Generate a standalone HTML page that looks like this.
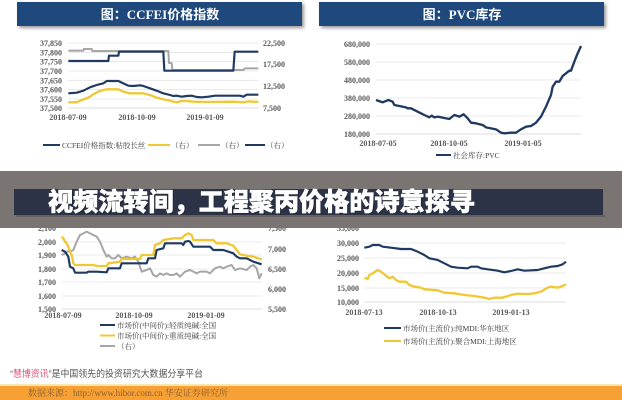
<!DOCTYPE html>
<html><head><meta charset="utf-8">
<style>
html,body{margin:0;padding:0;background:#fff;}
svg{display:block;}
.ax{font-family:"Liberation Serif","Noto Serif CJK SC",serif;font-size:8px;fill:#595959;font-weight:bold;}
.lg{font-family:"Liberation Serif","Noto Serif CJK SC",serif;font-size:7.5px;fill:#404040;}
.tt{font-family:"Liberation Serif","Noto Sans CJK SC",sans-serif;font-size:13px;font-weight:bold;fill:#fff;}
.g{stroke:#e4e4e4;stroke-width:0.8;}
</style></head>
<body>
<svg width="622" height="400" viewBox="0 0 622 400" xmlns="http://www.w3.org/2000/svg">
<defs>
<filter id="sh" x="-5%" y="-30%" width="110%" height="160%"><feGaussianBlur stdDeviation="1.5"/></filter>
</defs>
<rect width="622" height="400" fill="#fff"/>

<!-- ===== Top-left chart ===== -->
<rect x="19" y="4" width="285" height="24" fill="#999" filter="url(#sh)"/>
<rect x="17" y="2" width="285" height="24" fill="#1f497d"/>
<text x="160" y="19" text-anchor="middle" class="tt">图：CCFEI价格指数</text>
<g>
<line class="g" x1="68" y1="43" x2="258" y2="43"/>
<line class="g" x1="68" y1="52.3" x2="258" y2="52.3"/>
<line class="g" x1="68" y1="61.6" x2="258" y2="61.6"/>
<line class="g" x1="68" y1="71" x2="258" y2="71"/>
<line class="g" x1="68" y1="80.3" x2="258" y2="80.3"/>
<line class="g" x1="68" y1="89.6" x2="258" y2="89.6"/>
<line class="g" x1="68" y1="99" x2="258" y2="99"/>
<line x1="68" y1="108" x2="258" y2="108" stroke="#d0d0d0" stroke-width="0.8"/>
</g>
<g class="ax" text-anchor="end">
<text x="62" y="46">37,850</text><text x="62" y="55.3">37,800</text><text x="62" y="64.6">37,750</text>
<text x="62" y="74">37,700</text><text x="62" y="83.3">37,650</text><text x="62" y="92.6">37,600</text>
<text x="62" y="102">37,550</text><text x="62" y="111">37,500</text>
</g>
<g class="ax">
<text x="263" y="46">22,500</text><text x="263" y="67">17,500</text><text x="263" y="89">12,500</text><text x="263" y="111">7,500</text>
</g>
<g class="ax" text-anchor="middle">
<text x="68" y="120">2018-07-09</text><text x="137" y="120">2018-10-09</text><text x="205" y="120">2019-01-09</text>
</g>
<g transform="translate(30,35) scale(0.33333)" fill="none" stroke-linejoin="round">
<polyline stroke="#a6a6a6" stroke-width="6" points="115,47 160,47 162,42 185,42 187,48 415,48 417,84 425,84 427,105 640,105 645,100 685,100"/>
<polyline stroke="#1f3a60" stroke-width="6.5" points="115,78 235,78 237,62 265,62 267,50 400,50 403,107 610,107 614,50 685,50"/>
</g>
<g transform="scale(0.33333)" fill="none" stroke-linejoin="round">
<polyline stroke="#f0c836" stroke-width="7" points="205,307 230,307 245,300 260,295 270,290 280,283 295,275 310,270 320,268 355,268 370,275 390,280 430,280 450,285 470,293 490,298 510,302 520,305 530,307 545,303 560,303 580,305 620,306 700,305 730,307 745,304 775,306"/>
<polyline stroke="#1f3a60" stroke-width="6.5" points="205,280 230,278 250,272 270,262 290,255 310,250 320,243 355,243 370,250 385,257 400,258 420,256 430,258 450,265 470,272 490,280 510,285 520,288 530,287 545,290 560,288 575,287 590,291 605,292 625,290 645,287 700,287 720,287 730,290 740,284 775,284"/>
</g>
<g stroke-width="2">
<line x1="43" y1="145" x2="60" y2="145" stroke="#1f3a60"/>
<line x1="148" y1="145" x2="170" y2="145" stroke="#f0c836"/>
<line x1="198" y1="145" x2="220" y2="145" stroke="#a6a6a6"/>
<line x1="245" y1="145" x2="265" y2="145" stroke="#1f3a60"/>
</g>
<g class="lg">
<text x="62" y="148">CCFEI价格指数:粘胶长丝</text>
<text x="171" y="148">（右）</text>
<text x="221" y="148">（右）</text>
<text x="266" y="148">（右）</text>
</g>

<!-- ===== Top-right chart ===== -->
<rect x="321" y="4" width="285" height="24" fill="#999" filter="url(#sh)"/>
<rect x="319" y="2" width="285" height="24" fill="#1f497d"/>
<text x="462" y="19" text-anchor="middle" class="tt">图：PVC库存</text>
<g>
<line class="g" x1="376" y1="44" x2="581" y2="44"/>
<line class="g" x1="376" y1="62" x2="581" y2="62"/>
<line class="g" x1="376" y1="80" x2="581" y2="80"/>
<line class="g" x1="376" y1="98" x2="581" y2="98"/>
<line class="g" x1="376" y1="116" x2="581" y2="116"/>
<line x1="376" y1="134" x2="581" y2="134" stroke="#d0d0d0" stroke-width="0.8"/>
</g>
<g class="ax" text-anchor="end">
<text x="370" y="47">680,000</text><text x="370" y="65">580,000</text><text x="370" y="83">480,000</text>
<text x="370" y="101">380,000</text><text x="370" y="119">280,000</text><text x="370" y="137">180,000</text>
</g>
<g class="ax" text-anchor="middle">
<text x="378" y="146">2018-07-05</text><text x="449" y="146">2018-10-05</text><text x="523" y="146">2019-01-05</text>
</g>
<g transform="translate(311,0) scale(0.33333)" fill="none" stroke-linejoin="round">
<polyline stroke="#1f3a60" stroke-width="7" points="195,300 215,307 232,300 245,305 250,315 265,318 285,322 290,325 300,325 320,335 340,345 355,352 362,347 370,352 380,350 400,354 415,357 430,345 445,350 458,343 470,355 480,368 495,370 515,375 525,382 540,385 555,388 570,398 580,400 600,398 615,398 630,388 645,380 660,378 675,368 690,350 705,320 720,285 725,260 735,245 745,245 755,228 765,220 775,212 780,212 790,185 800,160 810,138"/>
</g>
<line x1="436" y1="155" x2="451" y2="155" stroke="#1f3a60" stroke-width="2"/>
<text x="453" y="158" class="lg">社会库存:PVC</text>

<!-- ===== Bottom-left chart ===== -->
<g>
<line class="g" x1="62" y1="242" x2="262" y2="242"/>
<line class="g" x1="62" y1="255" x2="262" y2="255"/>
<line class="g" x1="62" y1="269" x2="262" y2="269"/>
<line class="g" x1="62" y1="282" x2="262" y2="282"/>
<line class="g" x1="62" y1="296" x2="262" y2="296"/>
<line x1="62" y1="309" x2="262" y2="309" stroke="#d0d0d0" stroke-width="0.8"/>
</g>
<g class="ax" text-anchor="end">
<text x="56" y="231">2,100</text><text x="56" y="245">2,000</text><text x="56" y="258">1,900</text>
<text x="56" y="272">1,800</text><text x="56" y="285">1,700</text><text x="56" y="299">1,600</text><text x="56" y="312">1,500</text>
</g>
<g class="ax">
<text x="268" y="231">7,500</text><text x="268" y="252">7,000</text><text x="268" y="272">6,500</text>
<text x="268" y="292">6,000</text><text x="268" y="312">5,500</text>
</g>
<g class="ax" text-anchor="middle">
<text x="63" y="318">2018-07-09</text><text x="134" y="318">2018-10-09</text><text x="206" y="318">2019-01-09</text>
</g>
<g transform="translate(0,225) scale(0.33333)" fill="none" stroke-linejoin="round">
<polyline stroke="#a6a6a6" stroke-width="6" points="185,90 195,85 200,80 210,80 220,75 230,50 240,30 250,25 260,20 270,25 280,30 290,35 300,50 310,75 320,95 325,90 335,100 345,100 355,90 365,100 380,95 395,100 405,95 415,110 425,140 440,135 450,130 460,150 470,155 480,145 490,150 500,145 510,150 520,150 530,145 540,155 555,140 570,135 580,140 590,145 600,140 620,140 630,145 645,130 660,125 670,130 680,125 695,120 705,135 720,130 740,135 750,125 760,120 770,130 778,160 785,145"/>
<polyline stroke="#f0c836" stroke-width="7" points="185,35 190,40 195,50 200,55 205,65 210,80 215,90 220,115 225,120 280,120 290,123 320,123 325,115 360,110 365,102 420,102 425,90 460,90 465,60 480,55 490,45 520,40 545,40 555,30 565,25 575,30 580,45 640,45 650,55 680,55 700,62 710,75 720,88 740,92 760,95 785,103"/>
<polyline stroke="#1f3a60" stroke-width="6.5" points="185,75 195,80 205,95 210,125 220,130 225,143 240,143 260,143 265,140 290,140 320,142 325,130 360,130 365,115 440,115 445,100 465,100 470,75 490,70 495,55 520,55 545,55 550,60 555,50 565,48 570,50 580,65 630,65 640,75 670,75 700,85 710,95 720,100 740,100 760,110 785,118"/>
</g>
<g stroke-width="2">
<line x1="100" y1="325" x2="115" y2="325" stroke="#1f3a60"/>
<line x1="100" y1="335.5" x2="115" y2="335.5" stroke="#f0c836"/>
<line x1="100" y1="346" x2="115" y2="346" stroke="#a6a6a6"/>
</g>
<g class="lg">
<text x="117" y="328">市场价(中间价):轻质纯碱:全国</text>
<text x="117" y="338.5">市场价(中间价):重质纯碱:全国</text>
<text x="117" y="349">（右）</text>
</g>

<!-- ===== Bottom-right chart ===== -->
<g>
<line class="g" x1="364" y1="243" x2="566" y2="243"/>
<line class="g" x1="364" y1="258" x2="566" y2="258"/>
<line class="g" x1="364" y1="273" x2="566" y2="273"/>
<line class="g" x1="364" y1="288" x2="566" y2="288"/>
<line x1="364" y1="302" x2="566" y2="302" stroke="#d0d0d0" stroke-width="0.8"/>
</g>
<g class="ax" text-anchor="end">
<text x="359" y="231">35,000</text><text x="359" y="246">30,000</text><text x="359" y="261">25,000</text>
<text x="359" y="276">20,000</text><text x="359" y="291">15,000</text><text x="359" y="305">10,000</text>
</g>
<g class="ax" text-anchor="middle">
<text x="364" y="315">2018-07-13</text><text x="438" y="315">2018-10-13</text><text x="511" y="315">2019-01-13</text>
</g>
<g transform="translate(311,225) scale(0.33333)" fill="none" stroke-linejoin="round">
<polyline stroke="#1f3a60" stroke-width="6.5" points="160,68 175,65 185,60 205,60 215,65 240,68 270,72 300,72 320,80 340,90 355,100 380,105 400,115 420,125 440,128 470,130 480,125 500,125 510,130 530,133 560,137 580,142 600,138 620,133 640,137 680,135 700,130 720,125 740,123 755,118 765,110"/>
<polyline stroke="#f0c836" stroke-width="7" points="160,158 170,162 175,150 185,145 200,135 210,140 220,148 235,160 245,155 255,165 265,170 285,170 295,180 310,185 330,188 340,193 380,196 400,203 430,205 460,210 490,213 520,218 535,222 550,218 575,218 600,210 620,206 650,207 670,205 690,200 710,188 720,185 740,188 755,183 765,178"/>
</g>
<g stroke-width="2">
<line x1="384" y1="328" x2="401" y2="328" stroke="#1f3a60"/>
<line x1="384" y1="341" x2="401" y2="341" stroke="#f0c836"/>
</g>
<g class="lg">
<text x="403" y="331">市场价(主流价):纯MDI:华东地区</text>
<text x="403" y="344">市场价(主流价):聚合MDI:上海地区</text>
</g>

<!-- ===== Banner overlay ===== -->
<rect x="0" y="171" width="622" height="57" fill="#7a7472"/>
<rect x="14" y="189" width="589" height="26" fill="#2c3347"/>
<rect x="16" y="215" width="589" height="2" fill="#5d5956" opacity="0.7"/>
<text x="48" y="210.5" textLength="427" lengthAdjust="spacingAndGlyphs" font-family="'Noto Sans CJK SC','WenQuanYi Zen Hei',sans-serif" font-size="25" font-weight="900" fill="#000" opacity="0.35" transform="translate(1,1)">视频流转间，工程聚丙价格的诗意探寻</text>
<text x="48" y="210.5" textLength="427" lengthAdjust="spacingAndGlyphs" font-family="'Noto Sans CJK SC','WenQuanYi Zen Hei',sans-serif" font-size="25" font-weight="900" fill="#ffffff" stroke="#ffffff" stroke-width="0.6">视频流转间，工程聚丙价格的诗意探寻</text>

<!-- ===== Footer ===== -->
<text x="10" y="377" textLength="193" lengthAdjust="spacingAndGlyphs" font-family="'Liberation Sans','Noto Sans CJK SC',sans-serif" font-size="9.5" fill="#555"><tspan fill="#555">“</tspan><tspan fill="#e0507a">慧博资讯</tspan><tspan fill="#555">”是中国领先的投资研究大数据分享平台</tspan></text>
<rect x="0" y="384" width="622" height="2" fill="#fbe6b0"/>
<rect x="0" y="386" width="622" height="14" fill="#f7a035"/>
<text x="28" y="396" font-family="'Liberation Serif','Noto Serif CJK SC',serif" font-size="9" fill="#6b4a2a" opacity="0.75">数据来源：http://www.hibor.com.cn 华安证券研究所</text>
</svg>
</body></html>
